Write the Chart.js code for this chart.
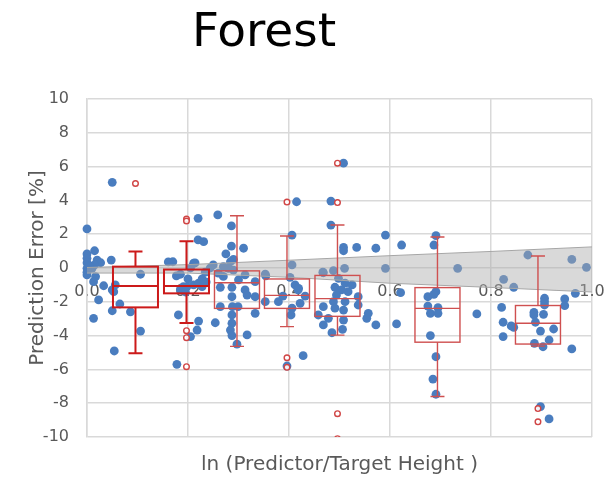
<!DOCTYPE html>
<html><head><meta charset="utf-8">
<script src="https://cdn.jsdelivr.net/npm/chart.js@4/dist/chart.umd.min.js"></script>
<style>html,body{margin:0;padding:0;background:#fff;} #wrap{width:605px;height:479px;}</style>
</head><body><div id="wrap"><canvas id="c" width="605" height="479"></canvas></div>
<script>
const chartTitle = 'Forest';
const xTitle = 'ln (Predictor/Target Height )';
const yTitle = 'Prediction Error [%]';
const xTicks = [0, 0.2, 0.4, 0.6, 0.8, 1.0];
const yTicks = [-10, -8, -6, -4, -2, 0, 2, 4, 6, 8, 10];

// blue observations
const ptsX = [
 0.00,0.015,0.00,0.00,0.00,0.02,0.027,0.015,0.048,0.05,0.106,0.00,0.01,0.00,0.017,0.013,0.033,0.05,0.023,0.056,0.065,0.05,0.086,0.106,0.013,0.054,0.053,0.005,0.00,
 0.17,0.185,0.211,0.22,0.22,0.178,0.191,0.185,0.198,0.211,0.221,0.228,0.181,0.221,0.218,0.205,0.205,0.214,0.234,0.244,0.161,0.177,0.2,0.228,0.236,0.195,0.231,
 0.259,0.286,0.286,0.31,0.275,0.29,0.284,0.25,0.27,0.28,0.29,0.313,0.264,0.287,0.313,0.317,0.287,0.333,0.333,0.264,0.288,0.299,0.287,0.287,0.333,0.254,0.284,0.287,0.317,0.297,0.27,0.30,0.26,
 0.353,0.354,0.353,0.379,0.406,0.406,0.402,0.412,0.419,0.422,0.406,0.404,0.428,0.415,0.396,0.418,0.432,0.388,0.467,
 0.508,0.483,0.483,0.591,0.508,0.508,0.534,0.572,0.623,0.468,0.488,0.51,0.591,0.498,0.491,0.504,0.517,0.537,0.494,0.511,0.488,0.468,0.491,0.508,0.537,0.458,0.478,0.508,0.557,0.554,0.468,0.506,0.485,0.572,0.613,0.511,0.525,
 0.691,0.687,0.734,0.621,0.691,0.675,0.687,0.675,0.695,0.68,0.695,0.772,0.68,0.691,0.685,0.691,
 0.825,0.845,0.873,0.96,0.989,0.821,0.824,0.824,0.84,0.845,0.906,0.906,0.906,0.946,0.946,0.967,0.885,0.885,0.904,0.888,0.924,0.898,0.915,0.886,0.903,0.96,0.898,0.915
];
const ptsY = [
 2.31,1.02,0.83,0.57,0.31,0.47,0.31,0.18,0.47,5.07,-0.37,-0.02,-0.02,-0.41,-0.51,-0.81,-1.05,-1.30,-1.89,-1.0,-2.13,-2.53,-2.59,-3.73,-2.98,-4.91,-1.4,0.12,-0.25,
 0.37,-0.37,0.28,2.94,1.66,-5.70,-1.1,-1.3,-1.1,-1.0,-0.9,-1.1,-2.78,-3.14,-3.67,-4.06,0.0,0.3,-0.24,0.0,0.36,-0.47,-0.65,-0.65,-0.83,-1.42,1.56,
 3.14,2.49,1.30,1.17,0.83,0.51,0.37,0.18,0.08,-0.02,-0.12,-0.41,-1.14,-1.14,-1.30,-1.6,-1.7,-0.81,-1.7,-2.29,-2.29,-2.29,-2.78,-3.27,-2.68,-3.24,-3.67,-4.0,-3.96,-4.51,-0.5,-0.7,-0.3,
 -0.36,-0.47,-1.99,-1.99,1.95,0.18,-0.55,-1.0,-1.2,-2.09,-2.38,-2.78,-5.19,3.92,-5.8,-1.3,-1.66,-1.66,-0.25,
 6.2,3.96,2.54,1.95,1.22,1.02,1.22,1.17,1.36,-0.28,-0.16,-0.02,-0.02,-0.61,-1.14,-1.3,-1.4,-1.7,-1.6,-1.99,-1.99,-2.29,-2.38,-2.49,-2.19,-2.78,-2.98,-3.08,-2.68,-2.98,-3.37,-3.63,-3.83,-3.37,-3.31,-0.89,-1.0,
 1.91,1.36,-0.02,-1.46,-1.4,-1.7,-1.56,-2.25,-2.35,-2.68,-2.68,-2.72,-4.0,-5.25,-6.57,-7.47,
 -0.67,-1.14,0.77,0.51,0.04,-2.33,-3.21,-4.06,-3.43,-3.51,-1.79,-1.99,-2.19,-1.83,-2.23,-1.5,-2.62,-2.78,-2.74,-3.21,-3.61,-3.73,-4.26,-4.46,-4.66,-4.79,-8.2,-8.93
];

// box plot statistics per bin
const boxX   = [0.096, 0.197, 0.297, 0.396, 0.496, 0.694, 0.893];
const boxMax = [0.97, 1.58, 3.09, 1.89, 2.54, 1.83, 0.71];
const boxQ3  = [0.08, -0.09, -0.17, -0.65, -0.44, -1.16, -2.22];
const boxMed = [-1.07, -1.07, -0.87, -1.62, -1.81, -2.39, -3.27];
const boxQ1  = [-2.33, -1.5, -2.39, -2.39, -2.86, -4.39, -4.5];
const boxMin = [-5.05, -3.25, -4.64, -3.47, -3.97, -7.6, -4.62];

// box plot outliers
const outX = [0.096, 0.197, 0.197, 0.197, 0.197, 0.197, 0.396, 0.396, 0.396, 0.496, 0.496, 0.496, 0.496, 0.893, 0.893];
const outY = [5.0, 2.9, 2.78, -3.71, -4.12, -5.84, 3.9, -5.31, -5.88, 6.2, 3.87, -8.62, -10.1, -8.32, -9.1];

// grey confidence band
const bandX     = [0, 0.2, 0.4, 0.6, 0.8, 1.0];
const bandUpper = [0.03, 0.2, 0.46, 0.73, 0.98, 1.25];
const bandLower = [-0.3, -0.3, -0.55, -0.9, -1.15, -1.42];

const GRID = '#d9d9d9';
const TXT = '#595959';
const FONT = 'DejaVu Sans';

const toXY = (xs, ys) => xs.map((x, i) => ({x, y: ys[i]}));

const boxPlugin = {
  id: 'boxplots',
  afterDatasetsDraw(chart) {
    const xs = chart.scales.x, ys = chart.scales.y, ctx = chart.ctx;
    const a = chart.chartArea;
    ctx.save();
    ctx.beginPath(); ctx.rect(a.left, a.top, a.right - a.left, a.bottom - a.top); ctx.clip();
    const hw = 22.5, cw = 7;
    boxX.forEach((bx, i) => {
      const cx = xs.getPixelForValue(bx);
      const pMax = ys.getPixelForValue(boxMax[i]);
      const pQ3 = ys.getPixelForValue(boxQ3[i]);
      const pMed = ys.getPixelForValue(boxMed[i]);
      const pQ1 = ys.getPixelForValue(boxQ1[i]);
      const pMin = ys.getPixelForValue(boxMin[i]);
      const strong = i < 2;
      ctx.strokeStyle = strong ? '#cc1a1a' : '#cf5050';
      ctx.lineWidth = strong ? 2 : 1.4;
      ctx.beginPath();
      ctx.moveTo(cx, pQ3); ctx.lineTo(cx, pMax);
      ctx.moveTo(cx - cw, pMax); ctx.lineTo(cx + cw, pMax);
      ctx.moveTo(cx, pQ1); ctx.lineTo(cx, pMin);
      ctx.moveTo(cx - cw, pMin); ctx.lineTo(cx + cw, pMin);
      ctx.stroke();
      ctx.strokeRect(cx - hw, pQ3, 2 * hw, pQ1 - pQ3);
      ctx.beginPath();
      ctx.moveTo(cx - hw, pMed); ctx.lineTo(cx + hw, pMed);
      ctx.stroke();
    });
    ctx.restore();
  }
};

const titlePlugin = {
  id: 'bigTitle',
  afterDraw(chart) {
    const ctx = chart.ctx;
    ctx.save();
    ctx.font = '47px "' + FONT + '"';
    ctx.fillStyle = '#000';
    ctx.textAlign = 'center';
    ctx.textBaseline = 'alphabetic';
    ctx.fillText(chartTitle, 264, 46);
    ctx.restore();
  }
};

const tickSetter = vals => s => { s.ticks = vals.map(v => ({value: v})); };

new Chart(document.getElementById('c'), {
  type: 'scatter',
  data: {
    datasets: [
      {
        label: 'obs', data: toXY(ptsX, ptsY), order: 3,
        backgroundColor: '#4a7dbf', borderWidth: 0, pointRadius: 4.4, clip: false
      },
      {
        label: 'upper', data: toXY(bandX, bandUpper), order: 2, showLine: true,
        borderColor: '#a6a6a6', borderWidth: 1, pointRadius: 0,
        fill: '+1', backgroundColor: 'rgba(170,170,170,0.45)'
      },
      {
        label: 'lower', data: toXY(bandX, bandLower), order: 2, showLine: true,
        borderColor: '#a6a6a6', borderWidth: 1, pointRadius: 0, fill: false
      },
      {
        label: 'outliers', data: toXY(outX, outY), order: 1, clip: 0,
        pointRadius: 2.8, borderWidth: 1.4, borderColor: '#d04545', backgroundColor: 'rgba(255,255,255,0.9)'
      }
    ]
  },
  options: {
    responsive: false, animation: false, devicePixelRatio: 1,
    layout: {padding: {left: 23, right: 13, top: 99, bottom: 0}},
    plugins: {legend: {display: false}, tooltip: {enabled: false}, title: {display: false}},
    scales: {
      x: {
        type: 'linear', position: 'bottom', min: 0, max: 1,
        afterBuildTicks: tickSetter(xTicks),
        ticks: {display: false},
        grid: {color: GRID, lineWidth: 1.5, drawTicks: false},
        border: {display: false},
        title: {display: true, text: xTitle, color: TXT, font: {family: FONT, size: 20}, padding: {top: 0, bottom: 2}},
        afterFit: s => { s.height = 42; }
      },
      xl: {
        type: 'linear', position: {y: 0}, min: 0, max: 1,
        afterBuildTicks: tickSetter(xTicks),
        grid: {display: false, drawTicks: false},
        border: {display: false},
        ticks: {color: TXT, font: {family: FONT, size: 16}, padding: 14, maxRotation: 0, autoSkip: false,
                callback: v => Number(v).toFixed(1)},
        afterFit: s => { s.paddingLeft = 0; s.paddingRight = 0; }
      },
      y: {
        type: 'linear', min: -10, max: 10,
        afterBuildTicks: tickSetter(yTicks),
        ticks: {color: TXT, font: {family: FONT, size: 16}, padding: 18},
        grid: {color: GRID, lineWidth: 1.5, drawTicks: false},
        border: {color: GRID, width: 1.5},
        title: {display: true, text: yTitle, color: TXT, font: {family: FONT, size: 20}, padding: {top: 3, bottom: 0}},
        afterFit: s => { s.width = 64; }
      }
    }
  },
  plugins: [boxPlugin, titlePlugin]
});
</script></body></html>
